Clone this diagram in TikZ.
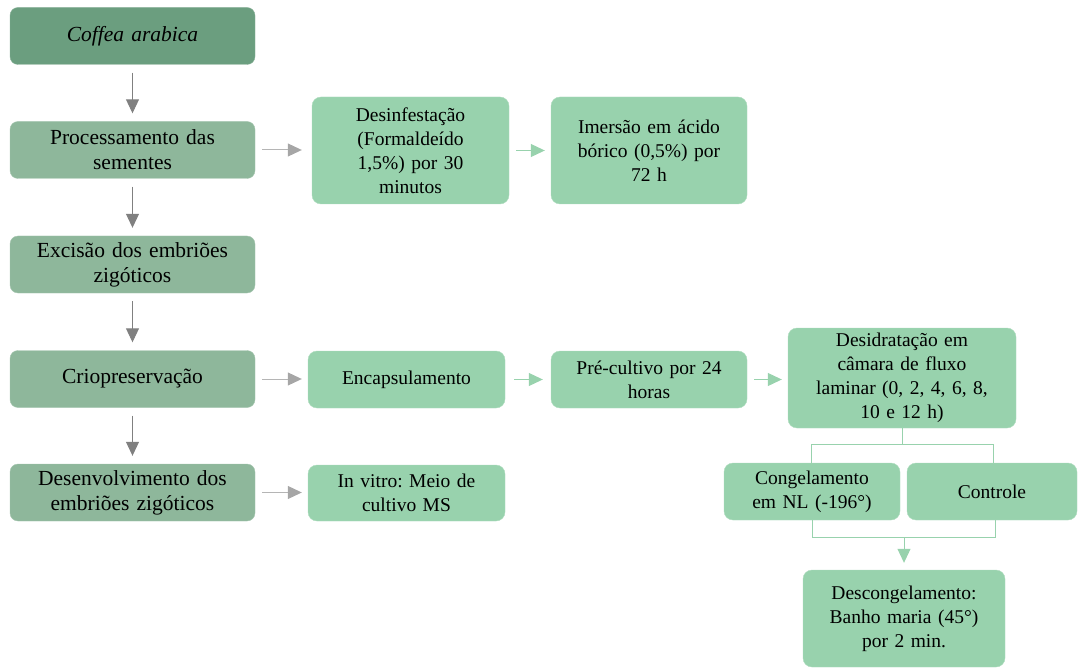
\documentclass[tikz,border=0pt]{standalone}
\usepackage{fontspec}
\setmainfont{Liberation Serif}[WordSpace=0.85]
\usetikzlibrary{arrows.meta}
\frenchspacing
\definecolor{topgreen}{HTML}{6B9E7F}
\definecolor{leftgreen}{HTML}{8EB79B}
\definecolor{mint}{HTML}{98D2AD}
\definecolor{darkarrow}{HTML}{808080}
\definecolor{lightarrow}{HTML}{B5B5B5}
\definecolor{headgray}{HTML}{A6A6A6}
\begin{document}
\begin{tikzpicture}[x=1pt,y=-1pt,
  leftbox/.style={draw=leftgreen!80!white, fill=leftgreen, rounded corners=8pt, minimum width=245pt, minimum height=57pt, align=center, inner sep=2pt, font=\fontsize{21.5}{25}\selectfont, text width=235pt},
  topbox/.style={leftbox, fill=topgreen, draw=topgreen!80!white},
  rbox/.style={draw=mint!80!white, fill=mint, rounded corners=9pt, align=center, inner sep=2pt, font=\fontsize{19.5}{24}\selectfont},
  vdark/.style={draw=darkarrow, line width=1pt, -{Triangle[width=13pt,length=14pt]}},
  hlight/.style={draw=lightarrow, line width=1pt, -{Triangle[width=13pt,length=14pt,color=headgray]}},
  hmint/.style={draw=mint, line width=1pt, -{Triangle[width=13pt,length=14pt]}},
  tree/.style={draw=mint, line width=1pt}
]
\useasboundingbox (0,0) rectangle (1078,668);
% left column
\node[topbox] (coffea) at (132.5,36) {\textit{Coffea arabica}};
\node[leftbox] (proc) at (132.5,150) {Processamento das\\sementes};
\node[leftbox] (exc) at (132.5,264.5) {Excisão dos embriões\\zigóticos};
\node[leftbox] (crio) at (132.5,379) {Criopreservação};
\node[leftbox] (desenv) at (132.5,492.5) {Desenvolvimento dos\\embriões zigóticos};
% vertical arrows
\draw[vdark] ([yshift=-8pt]coffea.south) -- ([yshift=8pt]proc.north);
\draw[vdark] ([yshift=-8pt]proc.south) -- ([yshift=8pt]exc.north);
\draw[vdark] ([yshift=-8pt]exc.south) -- ([yshift=8pt]crio.north);
\draw[vdark] ([yshift=-8pt]crio.south) -- ([yshift=8pt]desenv.north);
% right boxes
\node[rbox, minimum width=197pt, minimum height=107pt, text width=190pt] (desinf) at (410.5,150.5) {Desinfestação\\(Formaldeído\\1,5\%) por 30\\minutos};
\node[rbox, minimum width=196pt, minimum height=107pt, text width=190pt] (imers) at (649,150.5) {Imersão em ácido\\bórico (0,5\%) por\\72 h};
\node[rbox, minimum width=197pt, minimum height=57pt, text width=190pt] (encap) at (406.5,379.5) {Encapsulamento};
\node[rbox, minimum width=196pt, minimum height=57pt, text width=190pt] (precult) at (649,379.5) {Pré-cultivo por 24\\horas};
\node[rbox, minimum width=228pt, minimum height=100pt, text width=222pt] (desid) at (902,378) {Desidratação em\\câmara de fluxo\\laminar (0, 2, 4, 6, 8,\\10 e 12 h)};
\node[rbox, minimum width=197pt, minimum height=56pt, text width=190pt] (invitro) at (406.5,493) {In vitro: Meio de\\cultivo MS};
\node[rbox, minimum width=176pt, minimum height=57pt, text width=170pt] (cong) at (812,491.5) {Congelamento\\em NL (-196°)};
\node[rbox, minimum width=170pt, minimum height=57pt, text width=164pt] (contr) at (992,491.5) {Controle};
\node[rbox, minimum width=202pt, minimum height=97pt, text width=196pt] (descong) at (904,618.5) {Descongelamento:\\Banho maria (45°)\\por 2 min.};
% horizontal arrows
\draw[hlight] ([xshift=7pt]proc.east) -- ([xshift=-10pt]proc.east -| desinf.west);
\draw[hlight] ([xshift=7pt]crio.east) -- ([xshift=-6pt]crio.east -| encap.west);
\draw[hlight] ([xshift=7pt]desenv.east) -- ([xshift=-6pt]desenv.east -| invitro.west);
\draw[hmint] ([xshift=7pt]desinf.east) -- ([xshift=-6pt]imers.west);
\draw[hmint] ([xshift=9pt]encap.east) -- ([xshift=-8pt]precult.west);
\draw[hmint] ([xshift=7pt]precult.east) -- ([xshift=-6pt]precult.east -| desid.west);
% tree
\coordinate (t1) at (902,444);
\coordinate (t2) at (811,444);
\coordinate (t3) at (993,444);
\draw[tree] (desid.south) -- (t1);
\draw[tree] (t2 |- cong.north) -- (t2) -- (t3) -- (t3 |- contr.north);
\coordinate (b1) at (812,537);
\coordinate (b2) at (995,537);
\coordinate (b3) at (904,537);
\draw[tree] (b1 |- cong.south) -- (b1) -- (b2) -- (b2 |- contr.south);
\draw[hmint] (b3) -- ([yshift=7pt]descong.north);
\end{tikzpicture}
\end{document}
